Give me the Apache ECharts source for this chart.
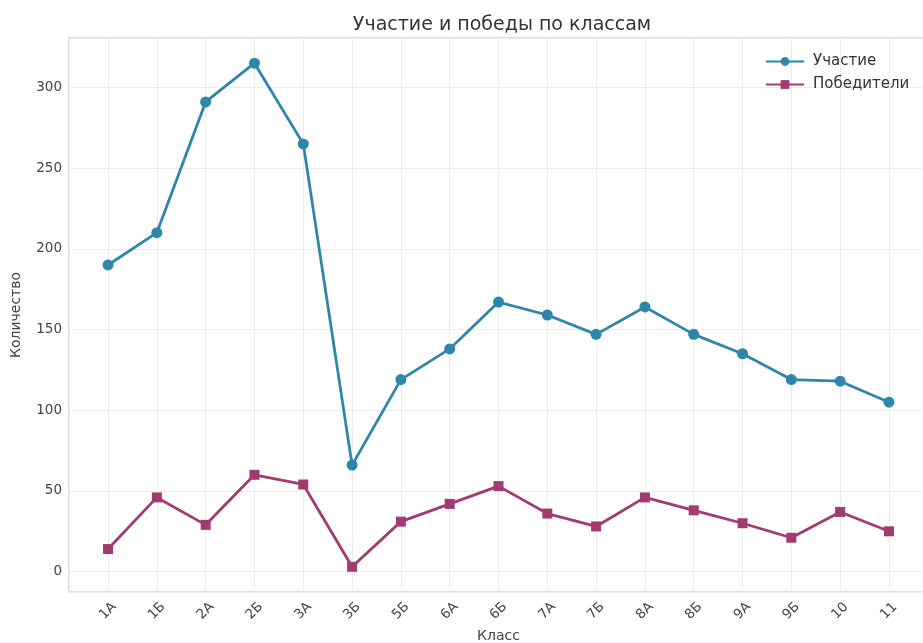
<!DOCTYPE html>
<html>
<head>
<meta charset="UTF-8">
<title>Участие и победы по классам</title>
<script src="https://cdn.jsdelivr.net/npm/echarts@6/dist/echarts.min.js"></script>
<style>
  html, body { margin: 0; padding: 0; background: #fff; }
  #chart { width: 923px; height: 643px; }
</style>
</head>
<body>
<div id="chart"></div>
<script type="text/javascript">

  // классы и значения
  var classes = ['1А', '1Б', '2А', '2Б', '3А', '3Б', '5Б', '6А', '6Б', '7А', '7Б', '8А', '8Б', '9А', '9Б', '10', '11'];
  var participation = [190, 210, 291, 315, 265, 66, 119, 138, 167, 159, 147, 164, 147, 135, 119, 118, 105];
  var winners = [14, 46, 29, 60, 54, 3, 31, 42, 53, 36, 28, 46, 38, 30, 21, 37, 25];

  function toPoints(arr) {
    var out = [];
    for (var i = 0; i < arr.length; i++) {
      out.push([i, arr[i]]);
    }
    return out;
  }

  var font = 'DejaVu Sans';
  var myChart = echarts.init(document.getElementById('chart'));

  var option = {
      backgroundColor: '#fff',
      textStyle: { fontFamily: font },
      title: {
          text: 'Участие и победы по классам',
          left: 497,
          textAlign: 'center',
          top: 11,
          textStyle: { fontFamily: font, fontSize: 19, fontWeight: 'normal', color: '#333' }
      },
      legend: {
          orient: 'vertical',
          left: 760,
          top: 49,
          itemGap: 8,
          itemWidth: 38,
          itemHeight: 11,
          textStyle: { fontFamily: font, fontSize: 15, color: '#333', padding: [0, 0, 0, 4] },
          data: ['Участие', 'Победители']
      },
      grid: {
          left: 69,
          right: -5,
          top: 38,
          bottom: 51,
          outerBoundsMode: 'none',
          containLabel: false,
          show: true,
          borderColor: '#d4d4d4',
          borderWidth: 1.5
      },
      xAxis: {
          type: 'value',
          min: -0.8,
          max: 16.8,
          minInterval: 1,
          maxInterval: 1,
          name: 'Класс',
          nameLocation: 'middle',
          nameGap: 36,
          nameTextStyle: { fontFamily: font, fontSize: 14, color: '#444' },
          axisLine: { show: false },
          axisTick: { show: false },
          axisLabel: {
              rotate: 45,
              margin: 19,
              align: 'center',
              verticalAlign: 'middle',
              fontFamily: font,
              fontSize: 13.5,
              color: '#444',
              showMinLabel: true,
              showMaxLabel: true,
              formatter: function (v) {
                  return (Math.abs(v - Math.round(v)) < 1e-6 && classes[Math.round(v)]) ? classes[Math.round(v)] : '';
              }
          },
          splitLine: { show: true, lineStyle: { color: '#ececec', width: 1 } }
      },
      yAxis: {
          type: 'value',
          min: -12.6,
          max: 330.6,
          minInterval: 50,
          maxInterval: 50,
          name: 'Количество',
          nameLocation: 'middle',
          nameGap: 46,
          nameTextStyle: { fontFamily: font, fontSize: 14, color: '#444' },
          axisLine: { show: false },
          axisTick: { show: false },
          axisLabel: {
              margin: 7,
              fontFamily: font,
              fontSize: 13.5,
              color: '#444',
              formatter: function (v) {
                  return (Math.abs(v % 50) < 1e-6) ? String(Math.round(v)) : '';
              }
          },
          splitLine: { show: true, lineStyle: { color: '#ececec', width: 1 } }
      },
      series: [
          {
              name: 'Участие',
              type: 'line',
              data: toPoints(participation),
              symbol: 'circle',
              symbolSize: 11,
              color: '#2E86AB',
              lineStyle: { width: 2.8, color: '#2E86AB' },
              itemStyle: { color: '#2E86AB' },
              z: 3
          },
          {
              name: 'Победители',
              type: 'line',
              data: toPoints(winners),
              symbol: 'rect',
              symbolSize: 10,
              color: '#A23B72',
              lineStyle: { width: 2.8, color: '#A23B72' },
              itemStyle: { color: '#A23B72' },
              z: 3
          }
      ],
      animation: false
  };

  myChart.setOption(option);

</script>
</body>
</html>
